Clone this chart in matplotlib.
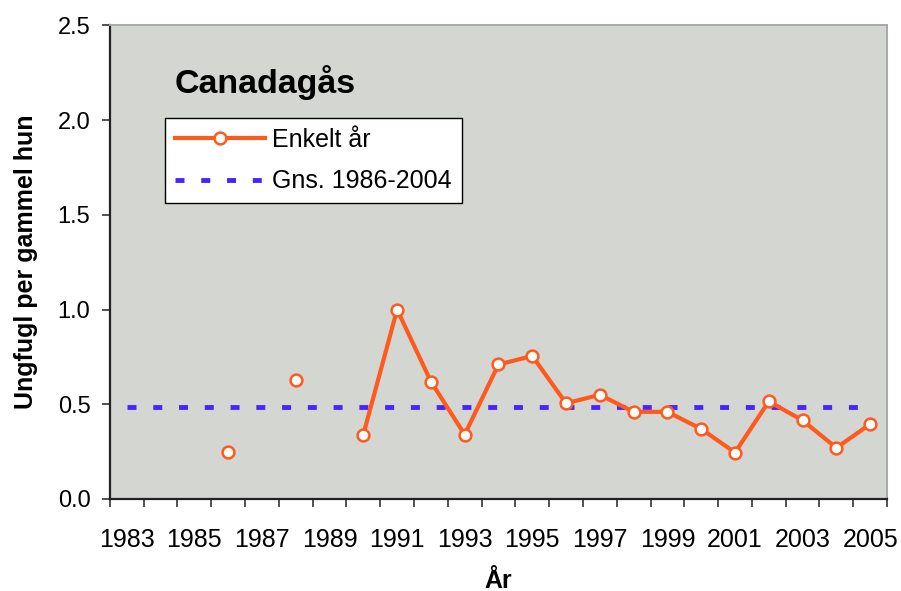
import numpy as np
import matplotlib
matplotlib.use("Agg")
import matplotlib.pyplot as plt
from matplotlib.ticker import FixedLocator, FormatStrFormatter

plt.rcParams['font.family'] = ['Liberation Sans', 'DejaVu Sans']

years = list(range(1983, 2006))
# Ungfugl per gammel hun, missing years as nan
values = [np.nan, np.nan, np.nan, 0.25, np.nan, 0.63, np.nan, 0.34, 1.00, 0.62,
          0.34, 0.71, 0.755, 0.505, 0.55, 0.46, 0.46, 0.37, 0.245, 0.515,
          0.415, 0.27, 0.395]
mean_value = 0.488
mean_years = [1983, 2005]
title = "Canadagås"
label_single = "Enkelt år"
label_mean = "Gns. 1986-2004"

fig = plt.figure(figsize=(9.01, 5.91), dpi=100)
ax = fig.add_axes([0.122, 0.1557, 0.8625, 0.8013])
ax.set_facecolor('#D4D6D1')

orange = '#FF5A1E'
blue = '#4A24FF'

ax.plot(years, values, color=orange, lw=3, marker='o', markersize=8.5,
        markerfacecolor='white', markeredgecolor=orange, markeredgewidth=1.8,
        label=label_single, zorder=3)
ax.plot(mean_years, [mean_value, mean_value], color=blue, lw=3.5,
        dashes=(1.85, 3.45), label=label_mean, zorder=2)

ax.set_xlim(1982.5, 2005.5)
ax.set_ylim(0, 2.5)
ax.xaxis.set_major_locator(FixedLocator(years[::2]))
ax.xaxis.set_minor_locator(FixedLocator(np.arange(1982.5, 2006, 1.0)))
ax.tick_params(axis='x', which='major', length=0, pad=21, labelsize=18)
ax.tick_params(axis='x', which='minor', length=6, width=1.2, color='#333333', direction='out')
ax.set_yticks(np.arange(0, 2.51, 0.5))
ax.yaxis.set_major_formatter(FormatStrFormatter('%.1f'))
ax.tick_params(axis='y', length=6, width=1.2, color='#333333', direction='out', labelsize=17, pad=8)

for s in ['left', 'bottom']:
    ax.spines[s].set_color('#222222')
    ax.spines[s].set_linewidth(1.6)
for s in ['top', 'right']:
    ax.spines[s].set_color('#A8A8A8')
    ax.spines[s].set_linewidth(1.4)

ax.set_xlabel("År", fontsize=18, fontweight='bold', labelpad=12)
ax.set_ylabel("Ungfugl per gammel hun", fontsize=18, fontweight='bold', labelpad=14)

ax.text(0.0837, 0.879, title, transform=ax.transAxes, fontsize=24.5,
        fontweight='bold', va='center', ha='left')

leg = ax.legend(loc='upper left', bbox_to_anchor=(0.0708, 0.805), borderaxespad=0,
                fancybox=False, edgecolor='black', framealpha=1, fontsize=18,
                handlelength=3.6, handletextpad=0.3, labelspacing=0.7,
                borderpad=0.4)
leg.get_frame().set_linewidth(1.0)

plt.savefig("out.png", dpi=100)
